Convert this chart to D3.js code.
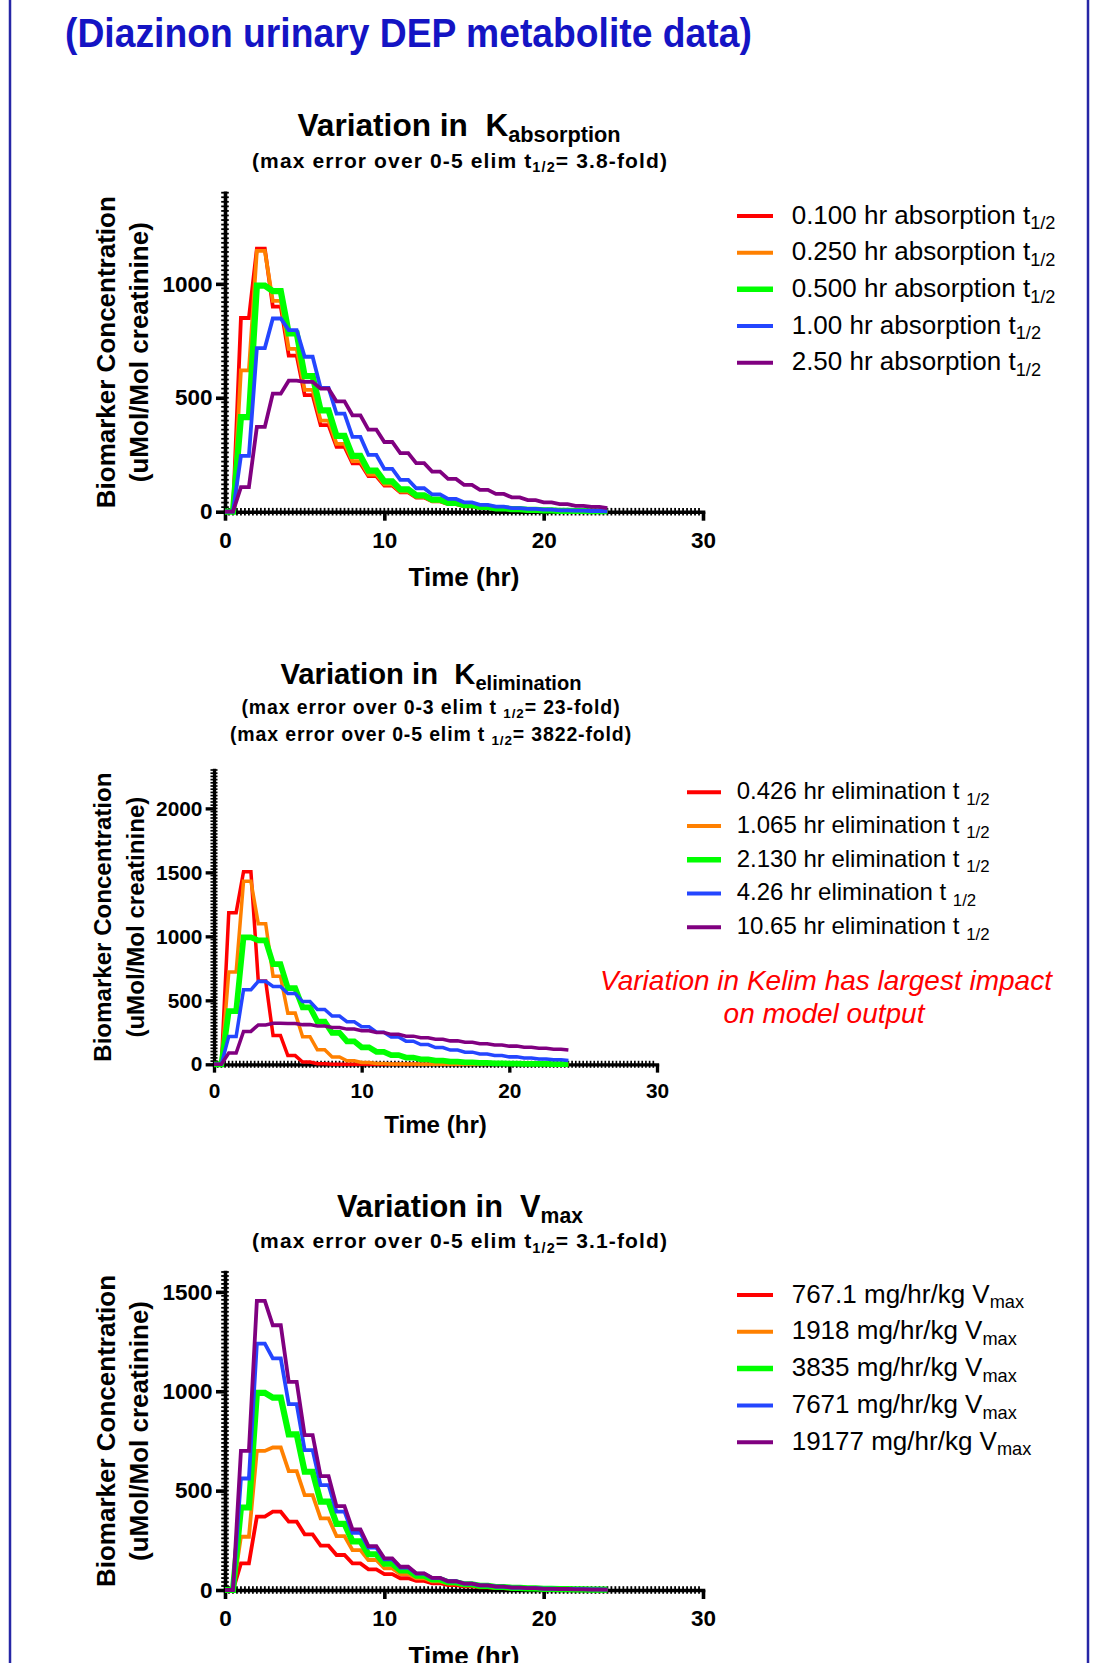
<!DOCTYPE html>
<html>
<head>
<meta charset="utf-8">
<script src="https://cdn.jsdelivr.net/npm/d3@7"></script>
<style>
html, body { margin: 0; padding: 0; background: #ffffff; }
svg { display: block; }
text { font-family: "Liberation Sans", Arial, Helvetica, sans-serif; white-space: pre; }
</style>
</head>
<body>
<svg id="chart" width="1097" height="1663"></svg>
<script>
// ---------------- DATA ----------------
const timeHr = [0, 1, 2, 3, 4, 5, 6, 7, 8, 9, 10, 11, 12, 13, 14, 15, 16, 17, 18, 19, 20, 21, 22, 23, 24];

// base case (green) : 0.500 hr absorption, 2.130 hr elimination, 3835 mg/hr/kg Vmax
const baseGreen  = [0, 415, 992, 968, 783, 595, 445, 333, 245, 180, 133, 98, 72, 53, 39, 29, 21, 15, 11, 8, 6, 4, 3, 2, 2];

// Variation in K absorption
const absRed     = [0, 850, 1155, 900, 685, 512, 380, 285, 212, 156, 115, 85, 62, 45, 33, 24, 17, 12, 9, 6, 5, 3, 2, 2, 1];
const absOrange  = [0, 620, 1145, 925, 715, 535, 400, 298, 222, 163, 120, 88, 65, 47, 35, 25, 18, 13, 10, 7, 5, 4, 3, 2, 1];
const absBlue    = [0, 245, 718, 848, 797, 680, 543, 430, 328, 249, 188, 140, 103, 76, 56, 41, 30, 22, 16, 12, 9, 6, 5, 3, 2];
const absPurple  = [0, 108, 372, 518, 575, 570, 540, 484, 423, 360, 306, 257, 213, 176, 144, 118, 96, 78, 63, 51, 41, 33, 26, 21, 16];

// Variation in K elimination
const elimRed    = [0, 1185, 1505, 650, 225, 68, 18, 4, 1, 0, 0, 0, 0, 0, 0, 0, 0, 0, 0, 0, 0, 0, 0, 0, 0];
const elimOrange = [0, 722, 1430, 1098, 688, 400, 216, 113, 57, 28, 14, 7, 3, 2, 1, 0, 0, 0, 0, 0, 0, 0, 0, 0, 0];
const elimBlue   = [0, 218, 582, 648, 608, 553, 490, 428, 377, 333, 294, 251, 213, 181, 154, 131, 111, 95, 80, 68, 58, 49, 42, 36, 30];
const elimPurple = [0, 88, 257, 308, 320, 318, 310, 300, 288, 275, 262, 248, 234, 220, 207, 195, 183, 172, 161, 151, 142, 133, 125, 118, 112];

// Variation in Vmax
const vmaxRed    = [0, 134, 369, 394, 344, 280, 223, 176, 134, 104, 80, 59, 46, 34, 25, 18, 13, 9, 7, 5, 3, 2, 2, 1, 1];
const vmaxOrange = [0, 268, 700, 717, 598, 477, 360, 271, 201, 151, 109, 80, 59, 43, 32, 23, 17, 12, 9, 7, 5, 4, 3, 2, 1];
const vmaxBlue   = [0, 561, 1240, 1165, 935, 704, 528, 394, 288, 213, 154, 113, 82, 60, 44, 32, 23, 17, 12, 9, 7, 5, 4, 3, 2];
const vmaxPurple = [0, 700, 1455, 1332, 1047, 779, 573, 422, 305, 221, 159, 117, 84, 61, 44, 32, 23, 17, 12, 9, 6, 5, 3, 2, 2];

const absLabels  = ["0.100 hr absorption t", "0.250 hr absorption t", "0.500 hr absorption t", "1.00 hr absorption t", "2.50 hr absorption t"];
const elimLabels = ["0.426 hr elimination t ", "1.065 hr elimination t ", "2.130 hr elimination t ", "4.26 hr elimination t ", "10.65 hr elimination t "];
const vmaxLabels = ["767.1 mg/hr/kg V", "1918 mg/hr/kg V", "3835 mg/hr/kg V", "7671 mg/hr/kg V", "19177 mg/hr/kg V"];

const xTicks = [0, 10, 20, 30];
const absYTicks  = [0, 500, 1000];
const elimYTicks = [0, 500, 1000, 1500, 2000];
const vmaxYTicks = [0, 500, 1000, 1500];

const seriesColors = ["#ff0000", "#ff8000", "#00ff00", "#2446ff", "#800080"];

// ---------------- LAYOUT ----------------
const plots = [
  {
    k: 1, x0: 225, x1: 703, yB: 511.7, yT: 192.7, yMax: 1400, yTicks: absYTicks, yMinor: 20,
    series: [absRed, absOrange, baseGreen, absBlue, absPurple],
    labels: absLabels, labelSub: "1/2",
    title: ["Variation in  K", "absorption"], titleX: 459, titleY: 136, titleW: 323,
    subs: [{ parts: ["(max error over 0-5 elim t", "1/2", "= 3.8-fold)"], y: 167.7, w: 416, x: 460 }],
    yLab: { l1x: 115.3, l2x: 148.4 },
    legend: { sx0: 737, sx1: 773, tx: 791.7, y0: 216, dy: 36.67, fs: 26 }
  },
  {
    k: 0.927, x0: 214, x1: 657, yB: 1064.3, yT: 770, yMax: 2300, yTicks: elimYTicks, yMinor: 25,
    series: [elimRed, elimOrange, baseGreen, elimBlue, elimPurple],
    labels: elimLabels, labelSub: "1/2",
    title: ["Variation in  K", "elimination"], titleX: 431, titleY: 684, titleW: 301,
    subs: [
      { parts: ["(max error over 0-3 elim t ", "1/2", "= 23-fold)"], y: 714, w: 379, x: 431 },
      { parts: ["(max error over 0-5 elim t ", "1/2", "= 3822-fold)"], y: 741, w: 402, x: 431 }
    ],
    yLab: { l1x: 111.3, l2x: 143.9 },
    legend: { sx0: 687, sx1: 721, tx: 736.7, y0: 792.3, dy: 33.75, fs: 24 }
  },
  {
    k: 1, x0: 225, x1: 703, yB: 1590, yT: 1272, yMax: 1600, yTicks: vmaxYTicks, yMinor: 20,
    series: [vmaxRed, vmaxOrange, baseGreen, vmaxBlue, vmaxPurple],
    labels: vmaxLabels, labelSub: "max",
    title: ["Variation in  V", "max"], titleX: 460, titleY: 1217, titleW: 246,
    subs: [{ parts: ["(max error over 0-5 elim t", "1/2", "= 3.1-fold)"], y: 1248, w: 416, x: 460 }],
    yLab: { l1x: 115.3, l2x: 148.4 },
    legend: { sx0: 737, sx1: 773, tx: 791.7, y0: 1295, dy: 36.8, fs: 26 }
  }
];

// ---------------- HELPERS ----------------
function fitSpacing(sel, target) {
  const node = sel.node();
  const w = node.getComputedTextLength();
  const n = node.textContent.length;
  if (n > 1) sel.attr("letter-spacing", ((target - w) / n).toFixed(3));
}
function fitScale(sel, target, ax) {
  const w = sel.node().getComputedTextLength();
  const s = target / w;
  sel.attr("transform", `translate(${ax},0) scale(${s.toFixed(4)},1) translate(${-ax},0)`);
}

// value held for half the sampling interval, then a linear ramp to the next value
function HoldRamp(context) { this._context = context; }
HoldRamp.prototype = {
  areaStart() { this._line = 0; },
  areaEnd() { this._line = NaN; },
  lineStart() { this._x = this._y = NaN; this._point = 0; },
  lineEnd() {
    if (this._line || (this._line !== 0 && this._point === 1)) this._context.closePath();
    this._line = 1 - this._line;
  },
  point(x, y) {
    x = +x; y = +y;
    if (this._point === 0) {
      this._point = 1;
      this._line ? this._context.lineTo(x, y) : this._context.moveTo(x, y);
    } else {
      this._point = 2;
      const xm = (this._x + x) / 2;
      this._context.lineTo(xm, this._y);
      this._context.lineTo(x, y);
    }
    this._x = x; this._y = y;
  }
};
const curveHoldRamp = (context) => new HoldRamp(context);

// ---------------- DRAW ----------------
const svg = d3.select("#chart");

// slide frame
svg.append("line").attr("x1", 10).attr("x2", 10).attr("y1", 0).attr("y2", 1663)
  .attr("stroke", "#2626a6").attr("stroke-width", 2.5);
svg.append("line").attr("x1", 1088).attr("x2", 1088).attr("y1", 0).attr("y2", 1663)
  .attr("stroke", "#2626a6").attr("stroke-width", 2.5);

// main title (second line visible)
const mainTitle = svg.append("text")
  .attr("x", 65).attr("y", 47)
  .attr("font-size", 40).attr("font-weight", "bold").attr("fill", "#1414c4")
  .text("(Diazinon urinary DEP metabolite data)");
fitScale(mainTitle, 687, 65);

plots.forEach((p) => {
  const k = p.k;
  const x = d3.scaleLinear().domain([0, 30]).range([p.x0, p.x1]);
  const y = d3.scaleLinear().domain([0, p.yMax]).range([p.yB, p.yT]);
  const g = svg.append("g");

  // title
  const t = g.append("text").attr("x", p.titleX).attr("y", p.titleY)
    .attr("text-anchor", "middle").attr("font-weight", "bold").attr("fill", "#000")
    .attr("font-size", 32 * k);
  t.append("tspan").text(p.title[0]);
  t.append("tspan").attr("font-size", 22 * k).attr("dy", 6.5 * k).text(p.title[1]);
  fitScale(t, p.titleW, p.titleX);

  // subtitles
  p.subs.forEach((s) => {
    const st = g.append("text").attr("x", s.x).attr("y", s.y)
      .attr("text-anchor", "middle").attr("font-weight", "bold").attr("fill", "#000")
      .attr("font-size", 21 * k);
    st.append("tspan").text(s.parts[0]);
    st.append("tspan").attr("font-size", 14.5 * k).attr("dy", 4.5 * k).text(s.parts[1]);
    st.append("tspan").attr("dy", -4.5 * k).text(s.parts[2]);
    fitSpacing(st, s.w);
  });

  // minor ticks
  const minor = g.append("g").attr("stroke", "#000").attr("stroke-width", 1.8 * k);
  minor.selectAll("line.xm").data(d3.range(0.25, 30, 0.25)).join("line")
    .attr("x1", (d) => x(d)).attr("x2", (d) => x(d))
    .attr("y1", p.yB - 3.8 * k).attr("y2", p.yB + 3.8 * k);
  minor.selectAll("line.ym").data(d3.range(p.yMinor, p.yMax + 0.001, p.yMinor)).join("line")
    .attr("x1", p.x0 - 3.8 * k).attr("x2", p.x0 + 3.8 * k)
    .attr("y1", (d) => y(d)).attr("y2", (d) => y(d));

  // axes
  const tickFs = 22.5 * k;
  const xAxis = d3.axisBottom(x).tickValues(xTicks).tickSize(9 * k).tickSizeOuter(0)
    .tickPadding(11.5 * k).tickFormat(d3.format("d"));
  const yAxis = d3.axisLeft(y).tickValues(p.yTicks).tickSize(9 * k).tickSizeOuter(0)
    .tickPadding(3.5 * k).tickFormat(d3.format("d"));

  const gx = g.append("g").attr("transform", `translate(0,${p.yB})`).call(xAxis);
  const gy = g.append("g").attr("transform", `translate(${p.x0},0)`).call(yAxis);
  [gx, gy].forEach((ax) => {
    ax.select(".domain").attr("stroke", "#000").attr("stroke-width", 3.6 * k).attr("stroke-linecap", "square");
    ax.selectAll(".tick line").attr("stroke", "#000").attr("stroke-width", 3.6 * k);
    ax.selectAll(".tick text").attr("fill", "#000").attr("font-size", tickFs)
      .attr("font-weight", "bold").attr("font-family", '"Liberation Sans", Arial, sans-serif');
  });

  // axis titles
  const xc = (p.x0 + p.x1) / 2;
  g.append("text").attr("x", xc).attr("y", p.yB + 74.5 * k)
    .attr("text-anchor", "middle").attr("font-size", 26 * k).attr("font-weight", "bold")
    .attr("fill", "#000").text("Time (hr)");

  const yc = (p.yB + p.yT) / 2;
  g.append("text").attr("transform", `translate(${p.yLab.l1x},${yc}) rotate(-90)`)
    .attr("text-anchor", "middle").attr("font-size", 26 * k).attr("font-weight", "bold")
    .attr("fill", "#000").text("Biomarker Concentration");
  g.append("text").attr("transform", `translate(${p.yLab.l2x},${yc}) rotate(-90)`)
    .attr("text-anchor", "middle").attr("font-size", 26 * k).attr("font-weight", "bold")
    .attr("fill", "#000").text("(uMol/Mol creatinine)");

  // curves
  const line = d3.line()
    .x((d, i) => x(timeHr[i]))
    .y((d) => y(d))
    .curve(curveHoldRamp);
  p.series.forEach((vals, si) => {
    g.append("path").datum(vals)
      .attr("d", line)
      .attr("fill", "none")
      .attr("stroke", seriesColors[si])
      .attr("stroke-width", (si === 2 ? 6.2 : 3.8) * k)
      .attr("stroke-linejoin", "miter");
  });

  // legend
  const L = p.legend;
  p.labels.forEach((lab, i) => {
    const ry = L.y0 + i * L.dy;
    g.append("line").attr("x1", L.sx0).attr("x2", L.sx1).attr("y1", ry).attr("y2", ry)
      .attr("stroke", seriesColors[i]).attr("stroke-width", i === 2 ? 5.5 : 4);
    const lt = g.append("text").attr("x", L.tx).attr("y", ry + 7.5 * L.fs / 26)
      .attr("font-size", L.fs).attr("fill", "#000");
    lt.append("tspan").text(lab);
    lt.append("tspan").attr("font-size", L.fs * 0.7).attr("dy", L.fs * 0.22).text(p.labelSub);
  });
});

// annotation
const note = svg.append("text").attr("text-anchor", "middle").attr("fill", "#ff0000")
  .attr("font-size", 28).attr("font-style", "italic");
note.append("tspan").attr("x", 826).attr("y", 990).text("Variation in Kelim has largest impact");
note.append("tspan").attr("x", 824).attr("y", 1023).text("on model output");
</script>
</body>
</html>
